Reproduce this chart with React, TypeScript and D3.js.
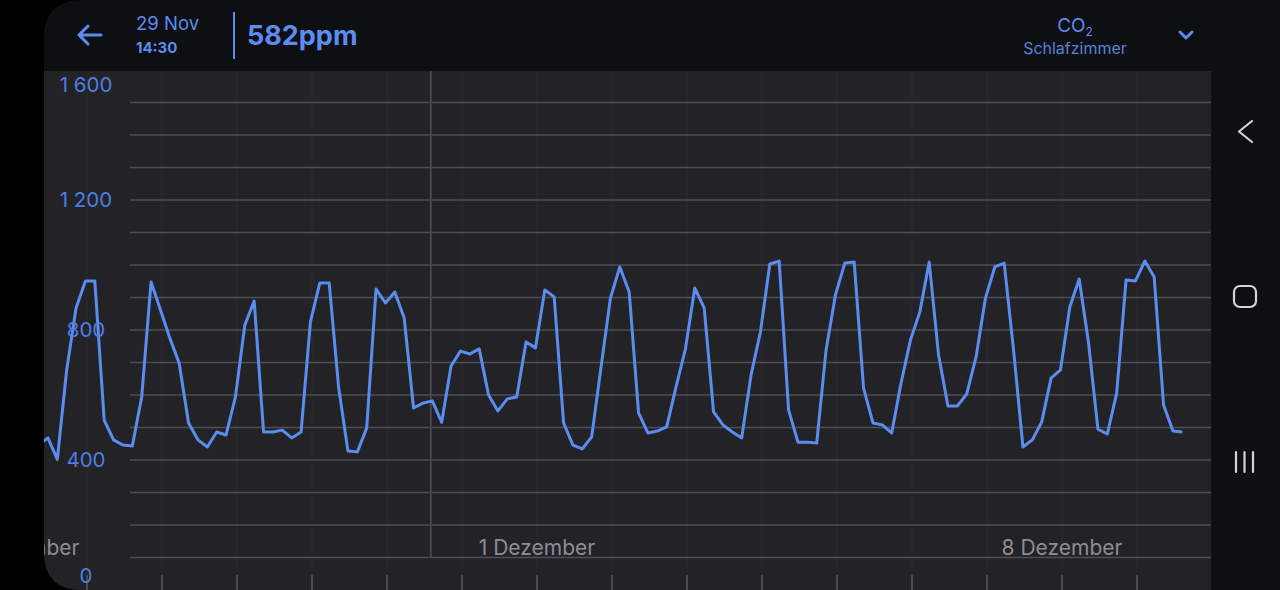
import React from "react";
import * as d3 from "d3";

// CO2 readings every 3 hours, starting 24 Nov 08:30
const startTime = Date.UTC(2020, 10, 24, 8, 30);
const stepHours = 3;
const co2Values = [
  446, 468, 402, 677, 868, 951, 951, 523, 462, 446, 443, 594, 948, 862, 775, 698,
  514, 462, 440, 486, 477, 594, 815, 889, 486, 486, 492, 468, 486, 825, 945, 945,
  625, 428, 425, 498, 926, 883, 917, 837, 560, 575, 582, 516, 689, 735, 726, 742,
  600, 551, 588, 594, 763, 745, 923, 902, 514, 446, 434, 471, 686, 898, 994, 917,
  545, 483, 489, 502, 625, 742, 929, 868, 548, 508, 486, 468, 662, 794, 1003, 1012,
  554, 455, 455, 452, 738, 908, 1006, 1009, 621, 514, 508, 483, 637, 769, 855, 1009,
  723, 566, 566, 603, 717, 898, 994, 1006, 738, 440, 462, 517, 652, 677, 871, 957,
  760, 495, 480, 606, 954, 951, 1012, 963, 569, 489, 486,
];
const yTickValues = [0, 400, 800, 1200, 1600];
const yTickLabels = ["0", "400", "800", "1 200", "1 600"];
const gridValues = d3.range(100, 1600, 100);
const xLabelDates = [Date.UTC(2020, 10, 24), Date.UTC(2020, 11, 1), Date.UTC(2020, 11, 8)];
const xLabelTexts = ["24 November", "1 Dezember", "8 Dezember"];
const cursorTime = Date.UTC(2020, 10, 29, 14, 30);
const headerDate = "29 Nov";
const headerTime = "14:30";
const headerValue = "582ppm";
const sensorName = "Schlafzimmer";

const W = 1280;
const H = 590;
const BLUE = "#5b8cf0";
const FONT = "Inter, 'Noto Sans', sans-serif";

export default function App() {
  const x = d3
    .scaleUtc()
    .domain([Date.UTC(2020, 10, 24), Date.UTC(2020, 11, 8)])
    .range([12, 1062]);
  const y = d3.scaleLinear().domain([0, 1600]).range([590, 70]);

  const data = co2Values.map((v, i) => ({ t: startTime + i * stepHours * 3600e3, v }));
  const line = d3
    .line<{ t: number; v: number }>()
    .x((d) => x(d.t))
    .y((d) => y(d.v));

  const days = d3.utcDay.range(new Date(Date.UTC(2020, 10, 24)), new Date(Date.UTC(2020, 11, 10)));

  const panelL = 44;
  const panelR = 1211;
  const panelT = 71;
  const screenPath = `M ${panelL + 38} 0 H ${W} V ${H} H ${panelL + 38} Q ${panelL} ${H} ${panelL} ${H - 38} V 38 Q ${panelL} 0 ${panelL + 38} 0 Z`;

  return (
    <div style={{ position: "fixed", left: 0, top: 0, width: W, height: H, background: "#000" }}>
      <svg width={W} height={H} style={{ display: "block", fontFamily: FONT }}>
        <defs>
          <clipPath id="screen">
            <path d={screenPath} />
          </clipPath>
          <clipPath id="panel">
            <rect x={panelL} y={panelT} width={panelR - panelL} height={H - panelT} />
          </clipPath>
        </defs>
        <rect width={W} height={H} fill="#000" />
        <g clipPath="url(#screen)">
          <rect x={0} y={0} width={W} height={H} fill="#0e0f13" />
          <rect x={panelL} y={panelT} width={panelR - panelL} height={H - panelT} fill="#232327" />
          <g clipPath="url(#panel)">
            {/* faint day lines */}
            {days.map((d, i) => (
              <line key={"dl" + i} x1={x(d)} x2={x(d)} y1={panelT} y2={574} stroke="#2a2a2e" strokeWidth={1} />
            ))}
            {/* grid */}
            {gridValues.map((g) => (
              <line key={"g" + g} x1={130} x2={panelR} y1={y(g)} y2={y(g)} stroke="#4e4e53" strokeWidth={1.6} />
            ))}
            {/* cursor line */}
            <line x1={x(cursorTime) - 1.5} x2={x(cursorTime) - 1.5} y1={panelT} y2={y(100)} stroke="#46464b" strokeWidth={2} />
            {/* ticks */}
            {days.map((d, i) => (
              <line key={"t" + i} x1={x(d)} x2={x(d)} y1={575} y2={H} stroke="#56565b" strokeWidth={1.6} />
            ))}
            {/* x labels */}
            {xLabelDates.map((d, i) => (
              <text key={"xl" + i} x={x(d)} y={555} textAnchor="middle" fill="#8d8d93" fontSize={21}>
                {xLabelTexts[i]}
              </text>
            ))}
            {/* data line */}
            <path d={line(data) || ""} fill="none" stroke={BLUE} strokeWidth={3} strokeLinejoin="round" />
            {/* y labels */}
            {yTickValues.map((v, i) => {
              let yy = y(v);
              if (v === 1600) yy = 85;
              if (v === 0) yy = 576;
              return (
                <text key={"yl" + v} x={86} y={yy} dy="0.36em" textAnchor="middle" fill="#4d7ee2" fontSize={20.5}>
                  {yTickLabels[i]}
                </text>
              );
            })}
          </g>

          {/* header */}
          <g stroke={BLUE} strokeWidth={3} fill="none" strokeLinecap="round" strokeLinejoin="round">
            <path d="M 79 35 H 101 M 79 35 L 88 26 M 79 35 L 88 44" />
            <path d="M 1180 32 L 1186 38 L 1192 32" />
          </g>
          <text x={136} y={30} fill={BLUE} fontSize={18.5}>{headerDate}</text>
          <text x={136} y={53} fill={BLUE} fontSize={15} fontWeight={700}>{headerTime}</text>
          <line x1={234} x2={234} y1={12} y2={59} stroke={BLUE} strokeWidth={2} />
          <text x={247} y={45} fill={BLUE} fontSize={27} fontWeight={700}>{headerValue}</text>
          <text x={1075} y={32} textAnchor="middle" fill={BLUE} fontSize={19}>
            CO<tspan fontSize={12} dy={4}>2</tspan>
          </text>
          <text x={1075} y={54} textAnchor="middle" fill="#5a82d6" fontSize={16}>{sensorName}</text>

          {/* nav bar icons */}
          <g stroke="#d4d4d6" strokeWidth={2.2} fill="none" strokeLinecap="round" strokeLinejoin="round">
            <path d="M 1252 121 L 1239 131.5 L 1252 142" />
            <rect x={1234} y={286} width={22} height={21} rx={6} />
            <path d="M 1236 452 V 472 M 1244.5 452 V 472 M 1253 452 V 472" />
          </g>
        </g>
      </svg>
    </div>
  );
}
